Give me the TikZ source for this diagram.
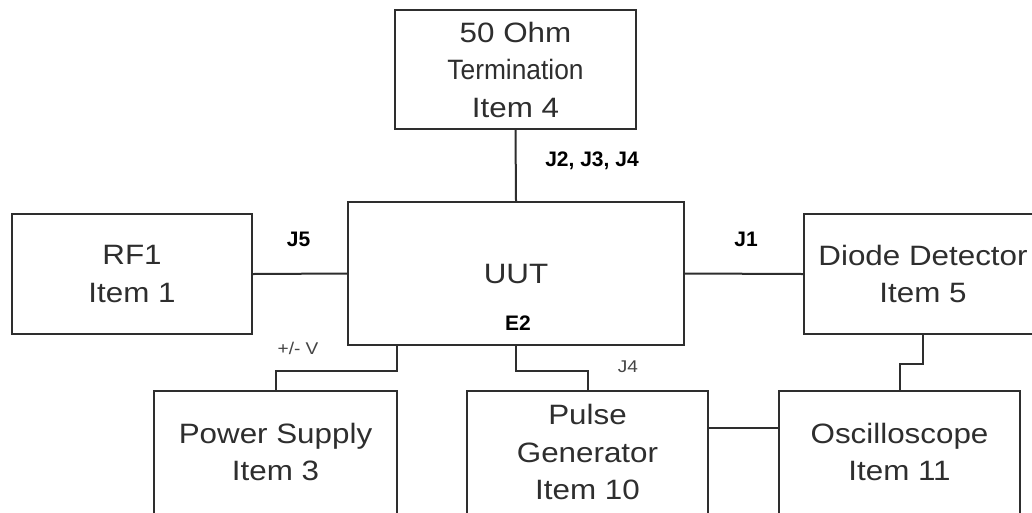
\documentclass[tikz,border=0pt]{standalone}
\usepackage{fontspec}
\usepackage{graphicx}
\setmainfont{Liberation Sans}
\newfontfamily\boxfont[FakeStretch=1.12]{Liberation Sans}
\usetikzlibrary{calc}
\definecolor{ink}{HTML}{2E2E2E}
\definecolor{soft}{HTML}{444444}
\tikzset{
  blk/.style={draw=ink, line width=2pt, inner sep=0pt, align=center, text=ink,
    font=\boxfont\fontsize{28}{37.5}\selectfont},
  openblk/.style={blk, draw=none},
  wire/.style={draw=ink, line width=2pt},
  blab/.style={font=\bfseries\fontsize{21}{24}\selectfont, text=black, inner sep=0pt},
  slab/.style={font=\boxfont\fontsize{17}{20}\selectfont, text=soft, inner sep=0pt}
}
\begin{document}
\begin{tikzpicture}[x=1pt,y=-1pt]
\useasboundingbox (0,0) rectangle (1032,512);
\clip (0,0) rectangle (1032,512);
\fill[white] (0,0) rectangle (1032,512);
\node[blk, minimum width=241pt, minimum height=119pt] (term) at (515.5,69.5) {50 Ohm\\\scalebox{0.84}[1]{Termination}\\Item 4};
\node[blk, minimum width=336pt, minimum height=143pt] (uut) at (516,273.5) {UUT};
\node[blk, minimum width=240pt, minimum height=120pt] (rf1) at (132,274) {RF1\\Item 1};
\node[blk, minimum width=238pt, minimum height=120pt] (diode) at (923,274) {Diode Detector\\Item 5};
\node[openblk, minimum width=241pt, minimum height=120pt] (power) at (275.5,452) {Power Supply\\Item 3};
\node[openblk, minimum width=239pt, minimum height=120pt] (pulse) at (587.5,452) {Pulse\\Generator\\Item 10};
\node[openblk, minimum width=239pt, minimum height=120pt] (osc) at (899.5,452) {Oscilloscope\\Item 11};
\foreach \b in {power,pulse,osc}
  \draw[wire] ([yshift=-10pt]\b.south west) -- (\b.north west) -- (\b.north east) -- ([yshift=-10pt]\b.south east);
\draw[wire] (term.south) -- (uut.north);
\draw[wire] (rf1.east) -- (uut.west);
\draw[wire] (uut.east) -- (diode.west);
\draw[wire] (uut.south -| power.east) -- ++(0,25) -| (power.north);
\draw[wire] (uut.south) -- ++(0,25) -| (pulse.north);
\draw[wire] (diode.south) -- ++(0,29) -| (osc.north);
\coordinate (pg) at ($(pulse.north east)!0.3!(pulse.south east)$);
\draw[wire] (pg) -- (pg -| osc.west);
\node[blab] (lj234) at (592,161) {J2, J3, J4};
\node[blab] (lj5) at (298.5,239) {J5};
\node[blab] (lj1) at (746,239) {J1};
\node[blab] (le2) at (518,323) {E2};
\node[slab] (lpv) at (298,348) {+/- V};
\node[slab] (lj4) at (628,367) {J4};
\end{tikzpicture}
\end{document}
